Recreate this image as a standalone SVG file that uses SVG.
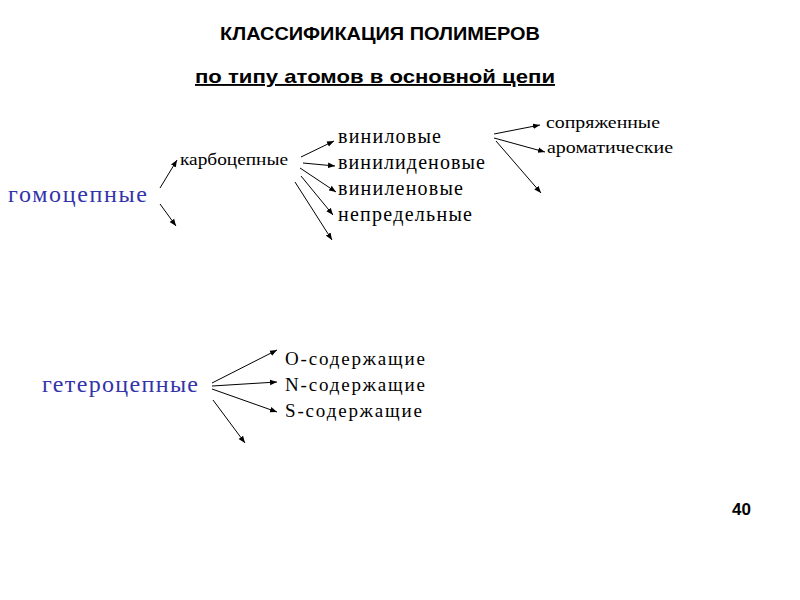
<svg xmlns="http://www.w3.org/2000/svg" width="800" height="600" viewBox="0 0 800 600">
<style>
.t{font-family:"Liberation Sans",Arial,sans-serif;font-weight:bold;fill:#000}
.s{font-family:"Liberation Serif","Times New Roman",serif;fill:#000}
.b{font-family:"Liberation Serif","Times New Roman",serif;fill:#3333aa}
.c line{stroke:#000;stroke-width:1;marker-end:url(#ah)}
</style>
<defs>
<marker id="ah" viewBox="0 0 10 10" refX="10" refY="5" markerWidth="7" markerHeight="7" markerUnits="userSpaceOnUse" orient="auto">
<path d="M0,1 L10,5 L0,9 Z" fill="#000"/>
</marker>
</defs>
<rect width="800" height="600" fill="#fff"/>
<g id="title">
<text class="t" x="220" y="40" font-size="17.5" textLength="320" lengthAdjust="spacingAndGlyphs">КЛАССИФИКАЦИЯ ПОЛИМЕРОВ</text>
<text class="t" x="195" y="83" font-size="19" textLength="360" lengthAdjust="spacingAndGlyphs" text-decoration="underline">по типу атомов в основной цепи</text>
</g>
<g id="homo"><text class="b" x="8" y="202" font-size="24" textLength="139">гомоцепные</text></g>
<g id="carbo"><text class="s" x="180" y="165" font-size="17" textLength="108" lengthAdjust="spacingAndGlyphs">карбоцепные</text></g>
<g id="vinyl"><text class="s" x="338" y="143" font-size="20" textLength="103">виниловые</text></g>
<g id="vinylidene"><text class="s" x="338" y="169" font-size="20" textLength="147">винилиденовые</text></g>
<g id="vinylene"><text class="s" x="338" y="195" font-size="20" textLength="125">виниленовые</text></g>
<g id="unsat"><text class="s" x="338" y="221" font-size="20" textLength="134">непредельные</text></g>
<g id="conj"><text class="s" x="546" y="128" font-size="17" textLength="114" lengthAdjust="spacingAndGlyphs">сопряженные</text></g>
<g id="arom"><text class="s" x="547" y="153" font-size="17" textLength="126" lengthAdjust="spacingAndGlyphs">ароматические</text></g>
<g id="hetero"><text class="b" x="42" y="392" font-size="24" textLength="156">гетероцепные</text></g>
<g id="o"><text class="s" x="285" y="365" font-size="19" textLength="140">О-содержащие</text></g>
<g id="n"><text class="s" x="285" y="391" font-size="19" textLength="140">N-содержащие</text></g>
<g id="s"><text class="s" x="285" y="417" font-size="19" textLength="137">S-содержащие</text></g>
<g id="page"><text class="t" x="732" y="515" font-size="17">40</text></g>
<g id="connectors" class="c">
<line x1="160" y1="188" x2="177" y2="160"/>
<line x1="160" y1="204" x2="176" y2="226"/>
<line x1="301" y1="157" x2="334" y2="141"/>
<line x1="303" y1="163" x2="335" y2="166"/>
<line x1="300" y1="168" x2="336" y2="192"/>
<line x1="301" y1="176" x2="333" y2="215"/>
<line x1="295" y1="182" x2="332" y2="240"/>
<line x1="494" y1="134" x2="540" y2="125"/>
<line x1="494" y1="138" x2="545" y2="152"/>
<line x1="496" y1="141" x2="541" y2="193"/>
<line x1="212" y1="383" x2="277" y2="350"/>
<line x1="212" y1="386" x2="277" y2="382"/>
<line x1="212" y1="389" x2="277" y2="412"/>
<line x1="213" y1="400" x2="245" y2="443"/>
</g>
</svg>
